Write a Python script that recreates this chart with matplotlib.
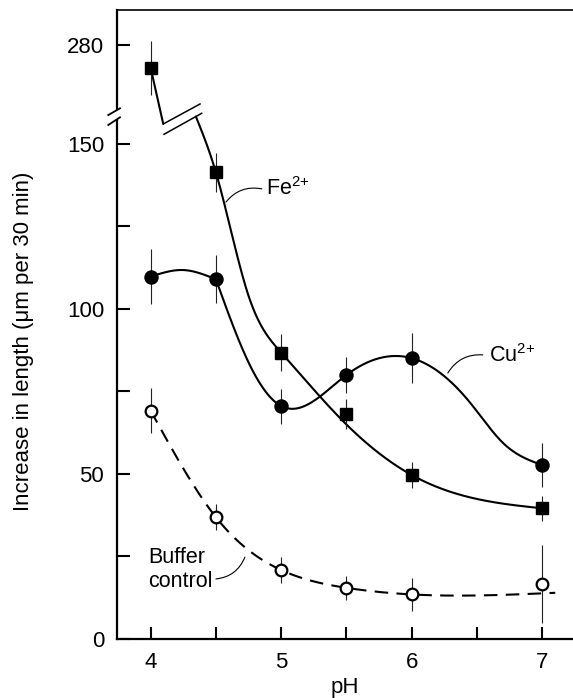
import numpy as np
import matplotlib
matplotlib.use("Agg")
import matplotlib.pyplot as plt
from matplotlib.patches import Polygon
from matplotlib.lines import Line2D

plt.rcParams["font.family"] = ["Liberation Sans", "DejaVu Sans"]
plt.rcParams["mathtext.fontset"] = "custom"
plt.rcParams["mathtext.rm"] = "Liberation Sans"
plt.rcParams["mathtext.it"] = "Liberation Sans:italic"
plt.rcParams["mathtext.bf"] = "Liberation Sans:bold"

# ---- measured values (mean ± error) ----
ph = [4.0, 4.5, 5.0, 5.5, 6.0, 7.0]

fe_mean = [273.0, 141.4, 86.8, 68.1, 49.7, 39.6]
fe_err = [8.2, 6.0, 5.6, 4.5, 4.0, 3.8]

cu_mean = [109.8, 109.0, 70.6, 80.0, 85.1, 52.7]
cu_err = [8.3, 7.3, 5.3, 5.6, 7.5, 6.7]

buf_mean = [69.2, 36.9, 20.9, 15.5, 13.5, 16.6]
buf_err = [6.8, 4.0, 3.8, 3.6, 5.0, 11.8]

# ---- hand-drawn trend lines (knots) ----
fe_top_ph = [4.0, 4.0965]
fe_top_val = [273.0, 156.1]
fe_fit_ph = [4.347, 4.5, 4.75, 5.0, 5.5, 6.0, 7.0]
fe_fit_val = [158.3, 141.4, 104.0, 86.8, 65.0, 49.7, 39.6]

cu_arch_ph = [4.0, 4.25, 4.5]
cu_arch_val = [109.8, 111.8, 109.0]
cu_fit_ph = [4.5, 4.76, 5.0, 5.5, 6.0, 6.45, 6.7, 7.0]
cu_fit_val = [109.0, 83.0, 70.6, 80.0, 85.1, 71.5, 59.4, 52.7]

buf_fit_ph = [4.0, 4.5, 5.0, 5.5, 6.0, 7.1]
buf_fit_val = [69.2, 36.9, 20.9, 15.5, 13.5, 14.0]

# ---- axis ticks ----
x_ticks = [4.0, 4.5, 5.0, 5.5, 6.0, 6.5, 7.0]
x_labels = ["4", "", "5", "", "6", "", "7"]
y_ticks = [0, 25, 50, 75, 100, 125, 150, 280]
y_labels = ["0", "", "50", "", "100", "", "150", "280"]


def natural_spline(x, y, xs):
    """Natural cubic spline through the knots, evaluated at xs."""
    x = np.asarray(x, float)
    y = np.asarray(y, float)
    n = len(x)
    h = np.diff(x)
    A = np.zeros((n, n))
    rhs = np.zeros(n)
    A[0, 0] = A[-1, -1] = 1.0
    for i in range(1, n - 1):
        A[i, i - 1] = h[i - 1]
        A[i, i] = 2 * (h[i - 1] + h[i])
        A[i, i + 1] = h[i]
        rhs[i] = 3 * ((y[i + 1] - y[i]) / h[i] - (y[i] - y[i - 1]) / h[i - 1])
    c = np.linalg.solve(A, rhs)
    b = np.diff(y) / h - h * (2 * c[:-1] + c[1:]) / 3
    d = np.diff(c) / (3 * h)
    xs = np.asarray(xs, float)
    i = np.clip(np.searchsorted(x, xs) - 1, 0, n - 2)
    t = xs - x[i]
    return y[i] + b[i] * t + c[i] * t**2 + d[i] * t**3


def smooth(xk, yk, num=400):
    xs = np.linspace(xk[0], xk[-1], num)
    return xs, natural_spline(xk, yk, xs)


# broken y axis: linear up to 160, compressed gap, linear again from 260
def fwd(v):
    v = np.asarray(v, float)
    return np.where(v <= 160, v,
                    np.where(v >= 260, v - 99.9, 160 + (v - 160) * 0.001))


def inv(d):
    d = np.asarray(d, float)
    return np.where(d <= 160, d,
                    np.where(d >= 160.1, d + 99.9, 160 + (d - 160) / 0.001))


fig = plt.figure(figsize=(5.73, 6.98), dpi=100)
ax = fig.add_axes([116.7 / 573, 59 / 698, (573 - 116.7) / 573, 629 / 698])
ax.set_yscale("function", functions=(fwd, inv))
ax.set_xlim(3.74, 7.236)
ax.set_ylim(0, 290.5)

line_kw = dict(color="black", lw=1.5, solid_capstyle="round")

# Fe2+ curve (two pieces either side of the break)
ax.plot(fe_top_ph, fe_top_val, **line_kw, zorder=2)
xs, ys = smooth(fe_fit_ph, fe_fit_val)
ax.plot(xs, ys, **line_kw, zorder=2)

# Cu2+ curve: arch up to pH 4.5, then the long sweep
xs, ys = smooth(cu_arch_ph, cu_arch_val, 120)
ax.plot(xs, ys, **line_kw, zorder=2)
xs, ys = smooth(cu_fit_ph, cu_fit_val)
ax.plot(xs, ys, **line_kw, zorder=2)

# buffer control curve (dashed)
xs, ys = smooth(buf_fit_ph, buf_fit_val)
ax.plot(xs, ys, color="black", lw=1.5, dashes=(6.5, 4), zorder=2)

# error bars
for mean, err in ((fe_mean, fe_err), (cu_mean, cu_err), (buf_mean, buf_err)):
    ax.errorbar(ph, mean, yerr=err, fmt="none", ecolor="#222222",
                elinewidth=0.8, capsize=0, zorder=3)

# markers
ax.plot(ph, fe_mean, "s", ms=8.6, color="black", zorder=4)
ax.plot(ph, cu_mean, "o", ms=9.4, color="black", zorder=4)
ax.plot(ph, buf_mean, "o", ms=8.4, mfc="white", mec="black", mew=1.6, zorder=4)

# axes styling
ax.spines["right"].set_visible(False)
for s in ("left", "bottom"):
    ax.spines[s].set_linewidth(1.6)
ax.spines["top"].set_linewidth(1.2)

tick_font = dict(family=["Liberation Sans", "DejaVu Sans"], size=16)
ax.set_xticks(x_ticks)
ax.set_xticklabels(x_labels, fontdict=tick_font)
ax.set_yticks(y_ticks)
ax.set_yticklabels(y_labels, fontdict=tick_font)
ax.yaxis.set_minor_locator(matplotlib.ticker.NullLocator())
ax.tick_params(direction="in", length=9, width=1.5, pad=9)
ax.tick_params(top=False, right=False)

ax.set_xlabel("pH", fontsize=16, labelpad=3)
fig.text(23.5 / 573, 1 - 341.5 / 698, "Increase in length (\u03bcm per 30 min)",
         rotation=90, ha="center", va="center", fontsize=16)

# break marks on the y axis
gap = Polygon([(-0.0184, 0.8172), (0.0072, 0.8294), (0.0072, 0.8437), (-0.0184, 0.833)],
              closed=True, transform=ax.transAxes, fc="white", ec="none",
              clip_on=False, zorder=5)
ax.add_patch(gap)
for (x0, y0), (x1, y1) in (((-0.0184, 0.833), (0.0072, 0.8437)),
                           ((-0.0184, 0.8172), (0.0072, 0.8294))):
    ax.add_line(Line2D([x0, x1], [y0, y1], transform=ax.transAxes,
                       color="black", lw=1.3, clip_on=False, zorder=6))

# break marks on the Fe2+ curve
for (x0, y0), (x1, y1) in (((0.1021, 0.8188), (0.1826, 0.8506)),
                           ((0.1037, 0.8024), (0.1863, 0.8358))):
    ax.add_line(Line2D([x0, x1], [y0, y1], transform=ax.transAxes,
                       color="black", lw=1.1, zorder=6))

# curve labels with leader lines
leader = dict(arrowstyle="-", connectionstyle="arc3,rad=0.3", lw=0.8,
              color="black", shrinkA=0, shrinkB=0)
ax.text(4.882, 134.5, r"$\mathrm{Fe}^{2{+}}$", fontsize=15.5, ha="left", va="baseline")
ax.annotate("", xy=(4.577, 132.4), xytext=(4.852, 136.4), arrowprops=leader)

ax.text(6.593, 84.0, r"$\mathrm{Cu}^{2{+}}$", fontsize=15.5, ha="left", va="baseline")
ax.annotate("", xy=(6.277, 80.6), xytext=(6.545, 86.1), arrowprops=leader)

ax.text(3.982, 15.8, "Buffer\ncontrol", fontsize=15.5, ha="left", va="baseline",
        linespacing=1.2)
ax.annotate("", xy=(4.722, 24.8), xytext=(4.5, 18.2), arrowprops=leader)

fig.savefig("out.png", dpi=100)
